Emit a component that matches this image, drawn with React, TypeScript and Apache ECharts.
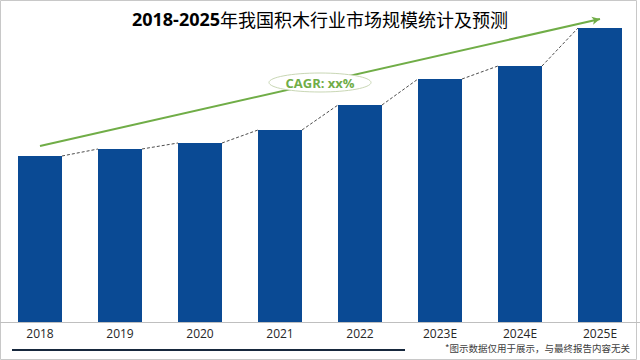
import React, { useEffect, useRef } from "react";
import * as echarts from "echarts";

const categories = ["2018", "2019", "2020", "2021", "2022", "2023E", "2024E", "2025E"];
const marketSize = [166, 173, 179, 192, 217, 243, 256, 294];
const cagrStart = 176;
const cagrEnd = 303;
const titleYears = "2018-2025";
const titleRest = "年我国积木行业市场规模统计及预测";
const cagrLabel = "CAGR: xx%";
const footnote = "*图示数据仅用于展示，与最终报告内容无关";

export default function App() {
  const ref = useRef<HTMLDivElement>(null);
  useEffect(() => {
    document.body.style.margin = "0";
    const chart = echarts.init(ref.current!, null, { renderer: "svg" });
    const connectors = marketSize.slice(0, -1).map((v, i) => [i, v, marketSize[i + 1]]);
    const font = "'Open Sans', 'Noto Sans CJK SC', sans-serif";
    chart.setOption({
      animation: false,
      backgroundColor: "#ffffff",
      grid: { left: 0, right: 0, top: 10, bottom: 38 },
      xAxis: {
        type: "category",
        data: categories,
        axisLine: { lineStyle: { color: "#bfbfbf", width: 1 } },
        axisTick: { show: false },
        axisLabel: { color: "#262626", fontSize: 12, margin: 5, fontFamily: font },
      },
      yAxis: { type: "value", min: 0, max: 312, show: false, splitLine: { show: false } },
      series: [
        {
          type: "bar",
          data: marketSize,
          barWidth: 44,
          itemStyle: { color: "#0a4a94" },
          z: 3,
          markLine: {
            silent: true,
            symbol: ["none", "arrow"],
            symbolSize: [6, 8],
            label: { show: false },
            lineStyle: { color: "#70ad47", width: 2, type: "solid" },
            data: [[{ coord: [0, cagrStart] }, { coord: [7, cagrEnd] }]],
            z: 4,
          },
        },
        {
          type: "custom",
          data: connectors,
          z: 2,
          renderItem: (params: any, api: any) => {
            const i = api.value(0);
            const p1 = api.coord([i, api.value(1)]);
            const p2 = api.coord([i + 1, api.value(2)]);
            const half = 22;
            return {
              type: "line",
              shape: { x1: p1[0] + half, y1: p1[1], x2: p2[0] - half, y2: p2[1] },
              style: { stroke: "#4d4d4d", lineWidth: 1, lineDash: [3, 2] },
            };
          },
        },
      ],
      graphic: [
        {
          type: "rect",
          shape: { x: 0.5, y: 0.5, width: 636, height: 359 },
          style: { fill: "none", stroke: "#c8c8c8", lineWidth: 1 },
          z: 0,
          silent: true,
        },
        {
          type: "text",
          left: "center",
          top: 10,
          style: {
            text: `{a|${titleYears}}{b|${titleRest}}`,
            rich: {
              a: { fontSize: 18, fontWeight: "bold", fill: "#000", fontFamily: font },
              b: { fontSize: 18, fontWeight: "normal", fill: "#000", fontFamily: "'Noto Sans CJK SC', sans-serif" },
            },
          },
          z: 10,
        },
        {
          type: "ellipse",
          shape: { cx: 320, cy: 82.5, rx: 51, ry: 9.5 },
          style: { fill: "#ffffff", stroke: "#c9d7b5", lineWidth: 1 },
          z: 20,
        },
        {
          type: "text",
          x: 320,
          y: 82.5,
          style: {
            text: cagrLabel,
            fill: "#70ad47",
            fontSize: 13,
            fontWeight: "bold",
            fontFamily: font,
            align: "center",
            verticalAlign: "middle",
          },
          z: 21,
        },
        {
          type: "line",
          shape: { x1: 12, y1: 350, x2: 405, y2: 350 },
          style: { stroke: "#17283d", lineWidth: 2 },
          z: 10,
        },
        {
          type: "text",
          right: 10,
          top: 343,
          style: { text: footnote, fill: "#404040", fontSize: 9.5, fontFamily: "'Noto Sans CJK SC', sans-serif" },
          z: 10,
        },
      ],
    });
    return () => chart.dispose();
  }, []);
  return <div ref={ref} style={{ width: 640, height: 360 }} />;
}
